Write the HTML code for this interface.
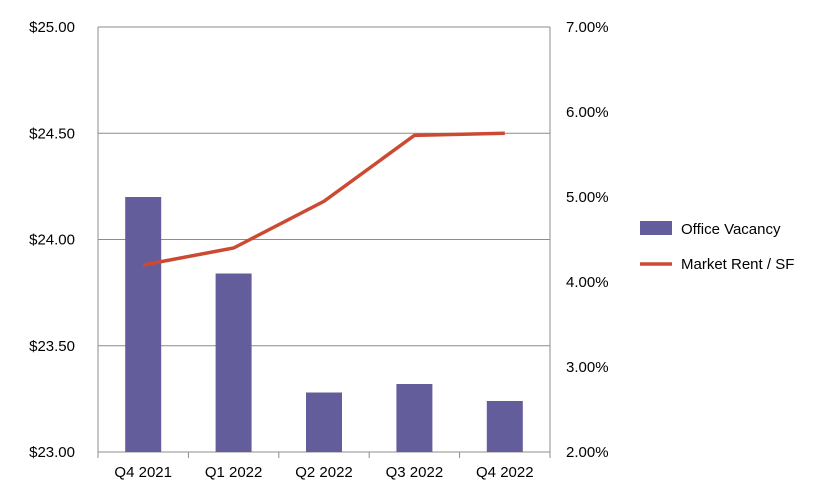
<!DOCTYPE html>
<html><head><meta charset="utf-8"><style>
body{margin:0;background:#fff;}
svg text{font-family:"Liberation Sans",sans-serif;font-size:15px;fill:#000;}
</style></head><body>
<svg id="chart" width="823" height="495" xmlns="http://www.w3.org/2000/svg">
<g id="grid"></g><g id="bars"></g><g id="line"></g><g id="axes"></g>
<g>
<rect x="640" y="221" width="32" height="14" fill="#635d9c"/>
<text x="681" y="234">Office Vacancy</text>
<line x1="640" y1="264" x2="672" y2="264" stroke="#cc4a33" stroke-width="3.5"/>
<text x="681" y="269">Market Rent / SF</text>
</g>
</svg>
<script>
const categories=["Q4 2021","Q1 2022","Q2 2022","Q3 2022","Q4 2022"];
const vacancy=[5.0,4.1,2.7,2.8,2.6];
const rent=[23.88,23.96,24.18,24.49,24.50];
const leftTicks=[23,23.5,24,24.5,25];
const rightTicks=[2,3,4,5,6,7];
const NS="http://www.w3.org/2000/svg";
const L=98,R=550,T=27,B=452;
const yL=v=>B-(v-23)/2*(B-T);
const yR=v=>B-(v-2)/5*(B-T);
const band=(R-L)/categories.length;
const xC=i=>L+band*(i+0.5);
function mk(tag,attrs,parent,txt){const e=document.createElementNS(NS,tag);for(const k in attrs)e.setAttribute(k,attrs[k]);if(txt!=null)e.textContent=txt;parent.appendChild(e);return e;}
const g=document.getElementById('grid'),gb=document.getElementById('bars'),gl=document.getElementById('line'),ga=document.getElementById('axes');
leftTicks.forEach(v=>{
 const ln=mk('line',{x1:L,x2:R,y1:yL(v),y2:yL(v),stroke:'#8c8c8c','stroke-width':1},g);
 
 
 const t=mk('text',{x:75,y:yL(v)+5,'text-anchor':'end'},ga,'$'+v.toFixed(2));
 
 
});
rightTicks.forEach(v=>{
 const t=mk('text',{x:566,y:yR(v)+5},ga,v.toFixed(2)+'%');
 
 
});
const la=mk('line',{x1:L,x2:L,y1:T,y2:B,stroke:'#8c8c8c'},ga);


const ra=mk('line',{x1:R,x2:R,y1:T,y2:B,stroke:'#8c8c8c'},ga);


for(let i=0;i<=categories.length;i++){
 const tk=mk('line',{x1:L+band*i,x2:L+band*i,y1:B,y2:B+6,stroke:'#8c8c8c'},ga);
 
 
}
categories.forEach((c,i)=>{
 const t=mk('text',{x:xC(i),y:477,'text-anchor':'middle'},ga,c);
 
 
 const bw=36;
 const b=mk('rect',{x:xC(i)-bw/2,y:yR(vacancy[i]),width:bw,height:B-yR(vacancy[i]),fill:'#635d9c'},gb);
 
 
});
const p=mk('polyline',{points:rent.map((v,i)=>xC(i)+','+yL(v)).join(' '),fill:'none',stroke:'#cc4a33','stroke-width':3.5},gl);


</script>
</body></html>
